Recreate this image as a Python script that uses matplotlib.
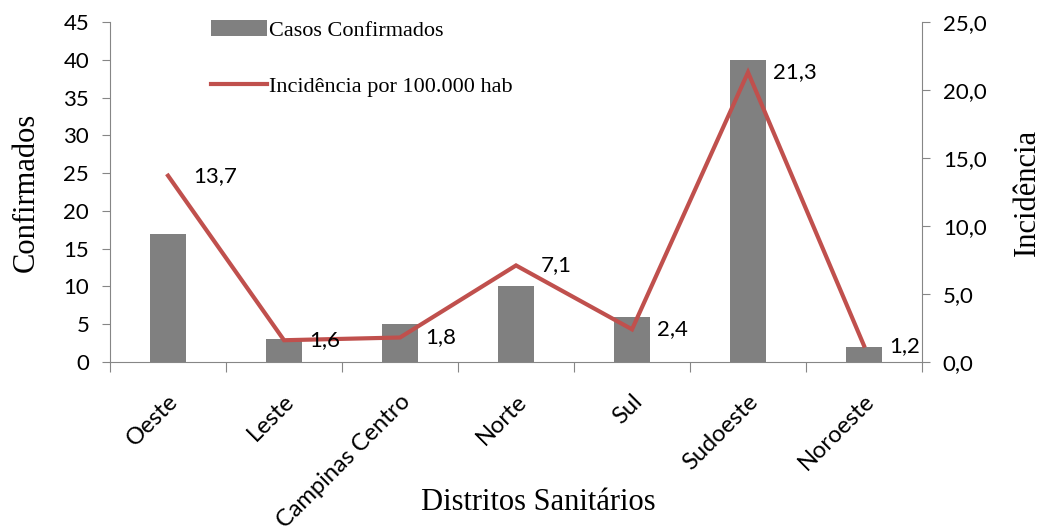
import matplotlib
matplotlib.use("Agg")
import matplotlib.pyplot as plt
from matplotlib.ticker import FuncFormatter

# data
distritos = ["Oeste", "Leste", "Campinas Centro", "Norte", "Sul", "Sudoeste", "Noroeste"]
confirmados = [17, 3, 5, 10, 6, 40, 2]
incidencia = [13.7, 1.6, 1.8, 7.1, 2.4, 21.3, 1.2]

SANS = ["Lato", "DejaVu Sans"]
SERIF = ["Liberation Serif", "DejaVu Serif"]
GRAY = "#808080"
RED = "#C0504D"
AXC = "#868686"

fig = plt.figure(figsize=(10.41, 5.30), dpi=100)
ax1 = fig.add_axes([0.1057, 0.317, 0.7800, 0.6415])
ax2 = ax1.twinx()

x = list(range(len(distritos)))
bars = ax1.bar(x, confirmados, width=0.31, color=GRAY, label="Casos Confirmados", zorder=2)
line, = ax2.plot(x, incidencia, color=RED, lw=3, label="Incidência por 100.000 hab",
                 solid_joinstyle="miter")

for xi, v in zip(x, incidencia):
    ax2.annotate(f"{v:.1f}".replace(".", ","), (xi, v), xytext=(18, 0),
                 textcoords="offset points", ha="left", va="center",
                 fontsize=16, family=SANS, color="#000000")

ax1.set_xlim(-0.5, len(distritos) - 0.5)
ax1.set_ylim(0, 45)
ax2.set_ylim(0, 25)
ax1.set_yticks(range(0, 46, 5))
ax2.set_yticks(range(0, 26, 5))
ax2.yaxis.set_major_formatter(FuncFormatter(lambda v, p: f"{v:.1f}".replace(".", ",")))

# category ticks at the boundaries, labels at centres
ax1.set_xticks([i - 0.5 for i in range(len(distritos) + 1)])
ax1.set_xticklabels([])
ax1.set_xticks([i + 0.06 for i in x], minor=True)
ax1.set_xticklabels(distritos, minor=True, rotation=45, ha="right", va="center",
                    rotation_mode="anchor", fontsize=17, family=SANS)
ax1.tick_params(axis="x", which="minor", length=0, pad=26)
ax1.tick_params(axis="x", which="major", length=7, color=AXC, direction="out")

for ax in (ax1, ax2):
    ax.spines["top"].set_visible(False)
    for s in ("left", "right", "bottom"):
        ax.spines[s].set_color(AXC)
    ax.tick_params(axis="y", length=6, color=AXC, labelsize=16, pad=9)
    for t in ax.get_yticklabels():
        t.set_family(SANS)
ax1.spines["right"].set_visible(False)
ax2.spines["left"].set_visible(False)
ax2.spines["bottom"].set_visible(False)

ax1.set_ylabel("Confirmados", fontsize=22, family=SERIF, labelpad=16)
ax2.set_ylabel("Incidência", fontsize=22, family=SERIF, labelpad=19)
fig.text(538 / 1041, 1 - 503 / 530, "Distritos Sanitários", fontsize=22, family=SERIF,
         ha="center", va="center")

fig.legend([bars, line], ["Casos Confirmados", "Incidência por 100.000 hab"],
           loc="upper left", bbox_to_anchor=(0.1835, 1.0), frameon=False,
           prop={"family": SERIF, "size": 16}, handlelength=2.5,
           handletextpad=0.1, labelspacing=1.6)

fig.savefig("out.png", dpi=100)
